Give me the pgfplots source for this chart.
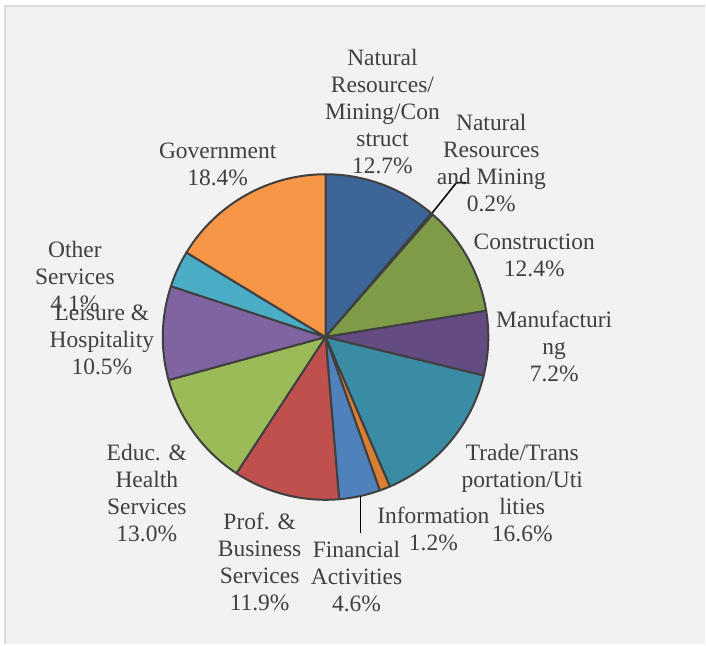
\documentclass[border=0pt]{standalone}
\usepackage{pgfplots}
\pgfplotsset{compat=1.18}
\usepackage{fontspec}
\setmainfont{Liberation Serif}

\definecolor{bgc}{HTML}{F2F2F2}
\definecolor{frame}{HTML}{D9D9D9}
\definecolor{edge}{HTML}{404040}
\definecolor{txt}{HTML}{404040}
\definecolor{s1}{HTML}{3C6598}
\definecolor{s2}{HTML}{953735}
\definecolor{s3}{HTML}{7E9C48}
\definecolor{s4}{HTML}{644B82}
\definecolor{s5}{HTML}{3A8CA5}
\definecolor{s6}{HTML}{D97F32}
\definecolor{s7}{HTML}{4F81BD}
\definecolor{s8}{HTML}{C0504D}
\definecolor{s9}{HTML}{9BBB59}
\definecolor{s10}{HTML}{8064A2}
\definecolor{s11}{HTML}{4BACC6}
\definecolor{s12}{HTML}{F79646}

\tikzset{lbl/.style={align=center, inner sep=0pt, text=txt,
    font=\fontsize{23.5}{27}\selectfont}}

\begin{document}
\begin{tikzpicture}
\begin{axis}[
    x=1pt, y=1pt,
    xmin=0, xmax=706, ymin=0, ymax=645,
    enlargelimits=false,
    hide axis,
    clip=false,
]
% background and frame
\fill[white] (axis cs:0,0) rectangle (axis cs:706,645);
\fill[bgc] (axis cs:4,0) rectangle (axis cs:706,640);
\draw[frame, line width=2pt] (axis cs:5,0) -- (axis cs:5,639) -- (axis cs:706,639);

% pie: shares in percent, clockwise from the top (total 112.8)
\pgfplotsextra{
  \gdef\startang{90}
  \foreach \v/\c in {12.7/s1, 0.2/s2, 12.4/s3, 7.2/s4, 16.6/s5, 1.2/s6,
                     4.6/s7, 11.9/s8, 13.0/s9, 10.5/s10, 4.1/s11, 18.4/s12}{
    \pgfmathsetmacro\endang{\startang-\v*360/112.8}
    \filldraw[fill=\c, draw=edge, line width=2pt, line join=round]
      (axis cs:326,307.5) -- ++(\startang:163pt)
      arc[start angle=\startang, end angle=\endang, radius=163pt] -- cycle;
    \xdef\startang{\endang}
  }
}

% leader lines
\draw[black, line width=1.5pt] (axis cs:433,432) -- (axis cs:457,462) -- (axis cs:467,462);
\draw[black, line width=1.5pt] (axis cs:361,148) -- (axis cs:361,111);

% labels
\node[lbl] at (axis cs:383,533) {Natural\\Resources/\\Mining/Con\\struct\\12.7\%};
\node[lbl] at (axis cs:492,482) {Natural\\Resources\\and Mining\\0.2\%};
\node[lbl] at (axis cs:535,389) {Construction\\12.4\%};
\node[lbl] at (axis cs:555,298) {Manufacturi\\ng\\7.2\%};
\node[lbl] at (axis cs:523,151) {Trade/Trans\\portation/Uti\\lities\\16.6\%};
\node[lbl] at (axis cs:434,115.5) {Information\\1.2\%};
\node[lbl] at (axis cs:357,68) {Financial\\Activities\\4.6\%};
\node[lbl] at (axis cs:260,82) {Prof. \&\\Business\\Services\\11.9\%};
\node[lbl] at (axis cs:147,151) {Educ. \&\\Health\\Services\\13.0\%};
\node[lbl] at (axis cs:75,368) {Other\\Services\\4.1\%};
\node[lbl] at (axis cs:102,305) {Leisure \&\\Hospitality\\10.5\%};
\node[lbl] at (axis cs:218,480) {Government\\18.4\%};
\end{axis}
\end{tikzpicture}
\end{document}
